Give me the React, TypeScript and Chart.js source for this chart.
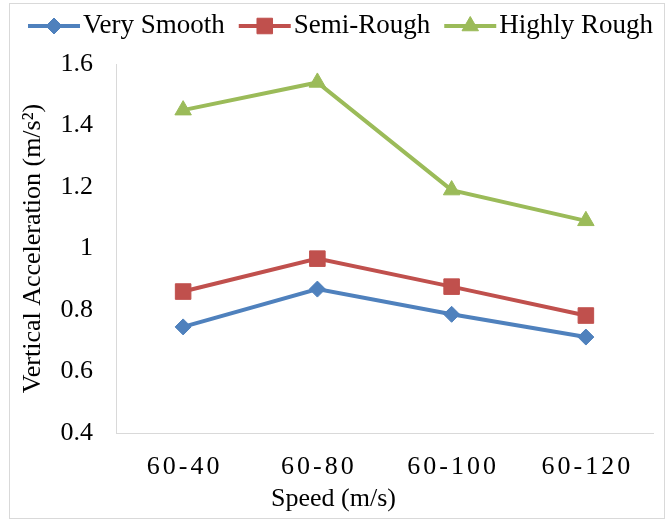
import React, { useEffect, useRef } from "react";
import { Chart, registerables } from "chart.js";

Chart.register(...registerables);

// Speed categories and the vertical acceleration recorded for each road class
const speeds = ["60-40", "60-80", "60-100", "60-120"];
const verySmooth = [0.745, 0.868, 0.786, 0.712];
const semiRough = [0.86, 0.967, 0.876, 0.782];
const highlyRough = [1.45, 1.54, 1.19, 1.09];

// Y axis range and tick step
const yMin = 0.4;
const yMax = 1.6;
const yStep = 0.2;

const xTitle = "Speed (m/s)";
const yTitle = "Vertical Acceleration (m/s²)";

const FONT = "'Liberation Serif', 'Times New Roman', serif";
const FONT_SIZE = 26;
const LEGEND_SIZE = 27;
const GRAY = "#d9d9d9";
const BLUE = "#4f81bd";
const RED = "#c0504d";
const GREEN = "#9bbb59";

function drawMarker(
  ctx: CanvasRenderingContext2D,
  style: string,
  x: number,
  y: number,
  r: number,
  color: string
) {
  ctx.save();
  ctx.fillStyle = color;
  ctx.strokeStyle = color;
  ctx.lineWidth = 1;
  ctx.beginPath();
  if (style === "rectRot") {
    ctx.moveTo(x, y - r);
    ctx.lineTo(x + r, y);
    ctx.lineTo(x, y + r);
    ctx.lineTo(x - r, y);
    ctx.closePath();
  } else if (style === "rect") {
    const h = r * Math.SQRT1_2;
    ctx.rect(x - h, y - h, 2 * h, 2 * h);
  } else {
    const hw = r * Math.sin((2 * Math.PI) / 3);
    ctx.moveTo(x, y - r);
    ctx.lineTo(x + hw, y + r / 2);
    ctx.lineTo(x - hw, y + r / 2);
    ctx.closePath();
  }
  ctx.fill();
  ctx.stroke();
  ctx.restore();
}

// Light grey frame around the whole figure
const framePlugin = {
  id: "frame",
  beforeDraw(chart: any) {
    const ctx = chart.ctx as CanvasRenderingContext2D;
    ctx.save();
    ctx.fillStyle = "#ffffff";
    ctx.fillRect(0, 0, chart.width, chart.height);
    ctx.strokeStyle = GRAY;
    ctx.lineWidth = 1;
    ctx.strokeRect(9.5, 3.5, 655, 515);
    ctx.restore();
  },
};

// Legend entries drawn as line + marker + label
const seriesLegendPlugin = {
  id: "seriesLegend",
  afterDraw(chart: any) {
    const ctx = chart.ctx as CanvasRenderingContext2D;
    ctx.save();
    ctx.font = `${LEGEND_SIZE}px ${FONT}`;
    ctx.textBaseline = "middle";
    ctx.textAlign = "left";
    const y = 26;
    let x = 28;
    chart.data.datasets.forEach((ds: any) => {
      ctx.strokeStyle = ds.borderColor;
      ctx.lineWidth = ds.borderWidth;
      ctx.beginPath();
      ctx.moveTo(x, y);
      ctx.lineTo(x + 52, y);
      ctx.stroke();
      drawMarker(ctx, ds.pointStyle, x + 26, y, ds.pointRadius, ds.borderColor);
      ctx.fillStyle = "#000000";
      ctx.fillText(ds.label, x + 55, y);
      x += 55 + ctx.measureText(ds.label).width + 14;
    });
    ctx.restore();
  },
};

// Category labels on the x axis (slightly letter-spaced) and the axis title
const xLabelPlugin = {
  id: "xLabels",
  afterDraw(chart: any) {
    const ctx = chart.ctx as CanvasRenderingContext2D;
    const xs = chart.scales.x;
    const spacing = 3;
    ctx.save();
    ctx.font = `${FONT_SIZE}px ${FONT}`;
    ctx.fillStyle = "#000000";
    ctx.textBaseline = "middle";
    ctx.textAlign = "left";
    (ctx as any).letterSpacing = `${spacing}px`;
    speeds.forEach((label, i) => {
      const w = ctx.measureText(label).width - spacing;
      ctx.fillText(label, xs.getPixelForValue(i) - w / 2, xs.top + 34);
    });
    (ctx as any).letterSpacing = "0px";
    ctx.textAlign = "center";
    ctx.fillText(xTitle, chart.width / 2, xs.top + 66);
    ctx.restore();
  },
};

function formatTick(v: number): string {
  return String(Number(v.toFixed(1)));
}

export default function App() {
  const canvasRef = useRef<HTMLCanvasElement | null>(null);

  useEffect(() => {
    const canvas = canvasRef.current;
    if (!canvas) return;
    const font = { family: FONT, size: FONT_SIZE };
    const chart = new Chart(canvas, {
      type: "line",
      data: {
        labels: speeds,
        datasets: [
          {
            label: "Very Smooth",
            data: verySmooth,
            borderColor: BLUE,
            backgroundColor: BLUE,
            borderWidth: 4,
            pointStyle: "rectRot",
            pointRadius: 8,
            pointBorderWidth: 1,
            pointBackgroundColor: BLUE,
            pointBorderColor: BLUE,
            tension: 0,
          },
          {
            label: "Semi-Rough",
            data: semiRough,
            borderColor: RED,
            backgroundColor: RED,
            borderWidth: 4,
            pointStyle: "rect",
            pointRadius: 11,
            pointBorderWidth: 1,
            pointBackgroundColor: RED,
            pointBorderColor: RED,
            tension: 0,
          },
          {
            label: "Highly Rough",
            data: highlyRough,
            borderColor: GREEN,
            backgroundColor: GREEN,
            borderWidth: 4,
            pointStyle: "triangle",
            pointRadius: 9.5,
            pointBorderWidth: 1,
            pointBackgroundColor: GREEN,
            pointBorderColor: GREEN,
            tension: 0,
          },
        ],
      },
      options: {
        animation: false,
        responsive: false,
        maintainAspectRatio: false,
        devicePixelRatio: 1,
        layout: { padding: { top: 64, right: 14, bottom: 0, left: 0 } },
        plugins: {
          legend: { display: false },
          tooltip: { enabled: false },
        },
        scales: {
          x: {
            type: "category",
            offset: true,
            grid: { display: false, drawTicks: false },
            border: { display: true, color: GRAY, width: 1 },
            ticks: { display: false },
            title: { display: false },
            afterFit: (s: any) => {
              s.height = 88;
            },
          },
          y: {
            min: yMin,
            max: yMax,
            grid: { display: false, drawTicks: false },
            border: { display: true, color: GRAY, width: 1 },
            ticks: {
              stepSize: yStep,
              padding: 23,
              font,
              color: "#000000",
              callback: (v: any) => formatTick(Number(v)),
            },
            title: {
              display: true,
              text: yTitle,
              font,
              color: "#000000",
              padding: { top: 18, bottom: 0 },
            },
            afterFit: (s: any) => {
              s.width = 116;
            },
          },
        },
      },
      plugins: [framePlugin, seriesLegendPlugin, xLabelPlugin],
    });
    return () => chart.destroy();
  }, []);

  return (
    <div style={{ position: "absolute", left: 0, top: 0, width: 667, height: 521 }}>
      <canvas ref={canvasRef} width={667} height={521} style={{ width: 667, height: 521, display: "block" }} />
    </div>
  );
}
